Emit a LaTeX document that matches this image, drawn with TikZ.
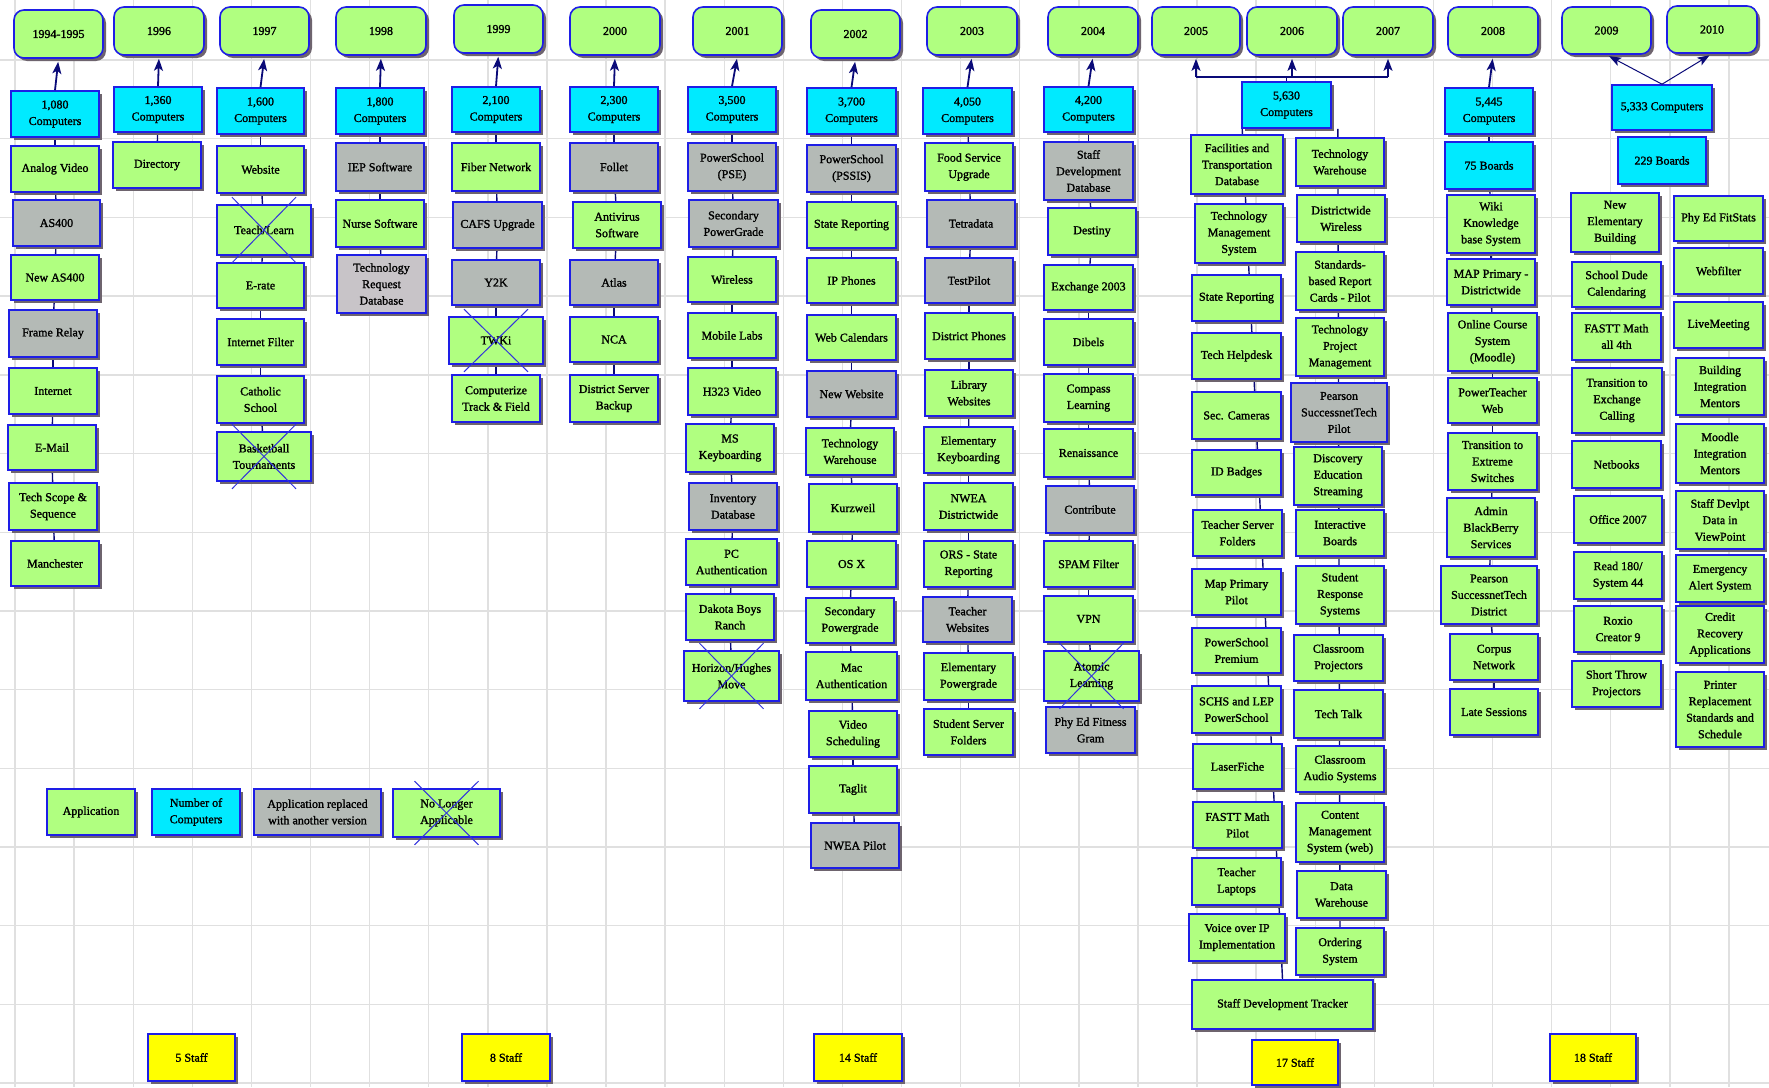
\documentclass[tikz,border=0pt]{standalone}
\usepackage{fontspec}
\setmainfont{Liberation Serif}
\newfontfamily\boxfont[FakeBold=1.5]{Liberation Serif}
\usetikzlibrary{arrows.meta,shadows}
\definecolor{appgreen}{RGB}{176,255,128}
\definecolor{cntcyan}{RGB}{0,234,255}
\definecolor{oldgray}{RGB}{180,186,182}
\definecolor{reqgray}{RGB}{200,196,200}
\definecolor{staffyellow}{RGB}{255,255,0}
\definecolor{bordercol}{RGB}{30,30,230}
\definecolor{navy}{RGB}{10,10,120}
\definecolor{xblue}{RGB}{50,50,220}
\definecolor{gridcol}{RGB}{224,224,224}
\definecolor{shadowcol}{RGB}{110,100,110}
\pgfdeclarelayer{gridlayer}
\pgfdeclarelayer{linklayer}
\pgfsetlayers{gridlayer,linklayer,main}
\newcommand{\fnt}{\boxfont\fontsize{12}{16.5}\selectfont}
\newcommand{\bx}[7]{\node[#1, minimum width={#5-#3}, minimum height={#6-#4}] (#2) at ({(#3+#5)/2},{(#4+#6)/2}) {#7};}
\newcommand{\xout}[1]{\draw[xline] ([shift={(-32,-7)}]#1.north) -- ([shift={(32,7)}]#1.south); \draw[xline] ([shift={(32,-7)}]#1.north) -- ([shift={(-32,7)}]#1.south);}
\newcommand{\chainlink}[1]{\foreach \p [count=\i] in {#1}{\ifnum\i>1 \draw[conn] (\prevnode) -- (\p);\fi \xdef\prevnode{\p}}}
\tikzset{
 box/.style={draw=bordercol, line width=1.6pt, inner sep=0.5pt, align=center, font=\fnt,
   drop shadow={shadow xshift=3pt, shadow yshift=-3pt, fill=shadowcol, opacity=1}},
 app/.style={box, fill=appgreen},
 cnt/.style={box, fill=cntcyan},
 old/.style={box, fill=oldgray},
 req/.style={box, fill=reqgray},
 yr/.style={box, fill=appgreen, rounded corners=10pt},
 staff/.style={box, fill=staffyellow},
 conn/.style={draw=navy, line width=1.4pt},
 arr/.style={conn, line width=1.8pt, -{Stealth[length=12pt, width=9pt, inset=3pt]}, shorten >=3pt},
 xline/.style={draw=xblue, line width=1pt},
 gridline/.style={draw=gridcol, line width=1.4pt}
}
\begin{document}
\begin{tikzpicture}[x=1pt,y=-1pt]
\useasboundingbox (0,0) rectangle (1769,1087);
\begin{pgfonlayer}{gridlayer}
\fill[white] (0,0) rectangle (1769,1087);
\foreach \i in {0,...,29} \draw[gridline] ({15+59.1*\i},0) -- ({15+59.1*\i},1087);
\foreach \j in {0,...,13} \draw[gridline] (0,{60+78.7*\j}) -- (1769,{60+78.7*\j});
\end{pgfonlayer}

% 1994-1995
\bx{yr}{y94}{14}{10}{103}{58}{1994-1995}
\bx{cnt}{c94}{11}{91}{99}{137}{1,080\\Computers}
\bx{app}{a94a}{11}{146}{99}{192}{Analog Video}
\bx{old}{a94b}{13}{200}{100}{246}{AS400}
\bx{app}{a94c}{11}{255}{99}{300}{New AS400}
\bx{old}{a94d}{9}{310}{97}{357}{Frame Relay}
\bx{app}{a94e}{9}{368}{97}{414}{Internet}
\bx{app}{a94f}{8}{425}{96}{470}{E-Mail}
\bx{app}{a94g}{9}{483}{97}{530}{Tech Scope \&\\Sequence}
\bx{app}{a94h}{11}{541}{99}{586}{Manchester}
% 1996
\bx{yr}{y96}{114}{7}{204}{55}{1996}
\bx{cnt}{c96}{114}{87}{202}{132}{1,360\\Computers}
\bx{app}{a96a}{113}{142}{201}{188}{Directory}
% 1997
\bx{yr}{y97}{220}{7}{309}{55}{1997}
\bx{cnt}{c97}{217}{88}{304}{134}{1,600\\Computers}
\bx{app}{a97a}{217}{146}{304}{193}{Website}
\bx{app}{a97b}{217}{205}{311}{255}{Teach/Learn}
\bx{app}{a97c}{217}{263}{304}{308}{E-rate}
\bx{app}{a97d}{217}{319}{304}{365}{Internet Filter}
\bx{app}{a97e}{217}{376}{304}{423}{Catholic\\School}
\bx{app}{a97f}{217}{432}{311}{481}{Basketball\\Tournaments}
% 1998
\bx{yr}{y98}{336}{7}{426}{55}{1998}
\bx{cnt}{c98}{336}{88}{424}{134}{1,800\\Computers}
\bx{old}{a98a}{336}{143}{424}{191}{IEP Software}
\bx{app}{a98b}{336}{200}{424}{247}{Nurse Software}
\bx{req}{a98c}{337}{255}{426}{313}{Technology\\Request\\Database}
% 1999
\bx{yr}{y99}{454}{5}{543}{53}{1999}
\bx{cnt}{c99}{452}{87}{540}{132}{2,100\\Computers}
\bx{app}{a99a}{452}{143}{540}{191}{Fiber Network}
\bx{old}{a99b}{453}{202}{542}{248}{CAFS Upgrade}
\bx{old}{a99c}{452}{260}{540}{305}{Y2K}
\bx{app}{a99d}{449}{317}{543}{364}{TWKi}
\bx{app}{a99e}{452}{375}{540}{422}{Computerize\\Track \& Field}
% 2000
\bx{yr}{y00}{570}{7}{660}{55}{2000}
\bx{cnt}{c00}{570}{87}{658}{132}{2,300\\Computers}
\bx{old}{a00a}{570}{143}{658}{191}{Follet}
\bx{app}{a00b}{573}{202}{661}{248}{Antivirus\\Software}
\bx{old}{a00c}{570}{260}{658}{305}{Atlas}
\bx{app}{a00d}{570}{317}{658}{362}{NCA}
\bx{app}{a00e}{570}{375}{658}{422}{District Server\\Backup}
% 2001
\bx{yr}{y01}{693}{7}{782}{55}{2001}
\bx{cnt}{c01}{688}{87}{776}{132}{3,500\\Computers}
\bx{old}{a01a}{688}{143}{776}{191}{PowerSchool\\(PSE)}
\bx{old}{a01b}{689}{200}{778}{247}{Secondary\\PowerGrade}
\bx{app}{a01c}{688}{257}{776}{302}{Wireless}
\bx{app}{a01d}{688}{313}{776}{358}{Mobile Labs}
\bx{app}{a01e}{688}{368}{776}{415}{H323 Video}
\bx{app}{a01f}{686}{424}{774}{472}{MS\\Keyboarding}
\bx{old}{a01g}{689}{483}{777}{530}{Inventory\\Database}
\bx{app}{a01h}{686}{539}{777}{585}{PC\\Authentication}
\bx{app}{a01i}{686}{594}{774}{640}{Dakota Boys\\Ranch}
\bx{app}{a01j}{684}{651}{779}{701}{Horizon/Hughes\\Move}
% 2002
\bx{yr}{y02}{811}{10}{900}{58}{2002}
\bx{cnt}{c02}{807}{88}{896}{134}{3,700\\Computers}
\bx{old}{a02a}{807}{145}{896}{192}{PowerSchool\\(PSSIS)}
\bx{app}{a02b}{807}{202}{896}{248}{State Reporting}
\bx{app}{a02c}{807}{258}{896}{303}{IP Phones}
\bx{app}{a02d}{807}{315}{896}{360}{Web Calendars}
\bx{old}{a02e}{807}{371}{896}{417}{New Website}
\bx{app}{a02f}{806}{428}{894}{475}{Technology\\Warehouse}
\bx{app}{a02g}{809}{484}{897}{532}{Kurzweil}
\bx{app}{a02h}{807}{541}{896}{587}{OS X}
\bx{app}{a02i}{806}{598}{894}{643}{Secondary\\Powergrade}
\bx{app}{a02j}{806}{652}{897}{700}{Mac\\Authentication}
\bx{app}{a02k}{809}{711}{897}{757}{Video\\Scheduling}
\bx{app}{a02l}{809}{766}{897}{813}{Taglit}
\bx{old}{a02m}{811}{823}{899}{868}{NWEA Pilot}
% 2003
\bx{yr}{y03}{927}{7}{1017}{55}{2003}
\bx{cnt}{c03}{923}{88}{1012}{134}{4,050\\Computers}
\bx{app}{a03a}{925}{143}{1013}{191}{Food Service\\Upgrade}
\bx{old}{a03b}{927}{200}{1015}{247}{Tetradata}
\bx{old}{a03c}{925}{258}{1013}{303}{TestPilot}
\bx{app}{a03d}{925}{313}{1013}{359}{District Phones}
\bx{app}{a03e}{925}{370}{1013}{416}{Library\\Websites}
\bx{app}{a03f}{924}{427}{1013}{473}{Elementary\\Keyboarding}
\bx{app}{a03g}{924}{483}{1013}{530}{NWEA\\Districtwide}
\bx{app}{a03h}{924}{541}{1013}{587}{ORS - State\\Reporting}
\bx{old}{a03i}{923}{597}{1012}{642}{Teacher\\Websites}
\bx{app}{a03j}{924}{653}{1013}{700}{Elementary\\Powergrade}
\bx{app}{a03k}{924}{709}{1013}{755}{Student Server\\Folders}
% 2004
\bx{yr}{y04}{1048}{7}{1138}{55}{2004}
\bx{cnt}{c04}{1044}{87}{1133}{132}{4,200\\Computers}
\bx{old}{a04a}{1044}{142}{1133}{200}{Staff\\Development\\Database}
\bx{app}{a04b}{1048}{208}{1136}{255}{Destiny}
\bx{app}{a04c}{1044}{265}{1133}{310}{Exchange 2003}
\bx{app}{a04d}{1044}{319}{1133}{365}{Dibels}
\bx{app}{a04e}{1044}{374}{1133}{422}{Compass\\Learning}
\bx{app}{a04f}{1044}{429}{1133}{477}{Renaissance}
\bx{old}{a04g}{1046}{486}{1134}{533}{Contribute}
\bx{app}{a04h}{1044}{541}{1133}{587}{SPAM Filter}
\bx{app}{a04i}{1044}{596}{1133}{642}{VPN}
\bx{app}{a04j}{1044}{651}{1139}{701}{Atomic\\Learning}
\bx{old}{a04k}{1046}{707}{1135}{753}{Phy Ed Fitness\\Gram}
% 2005-2007
\bx{yr}{y05}{1152}{7}{1240}{55}{2005}
\bx{yr}{y06}{1247}{7}{1337}{55}{2006}
\bx{yr}{y07}{1343}{7}{1433}{55}{2007}
\bx{cnt}{c05}{1242}{82}{1331}{128}{5,630\\Computers}
\bx{app}{l01}{1191}{135}{1283}{194}{Facilities and\\Transportation\\Database}
\bx{app}{l02}{1195}{204}{1283}{263}{Technology\\Management\\System}
\bx{app}{l03}{1192}{275}{1281}{321}{State Reporting}
\bx{app}{l04}{1192}{333}{1281}{379}{Tech Helpdesk}
\bx{app}{l05}{1192}{392}{1281}{439}{Sec. Cameras}
\bx{app}{l06}{1192}{450}{1281}{495}{ID Badges}
\bx{app}{l07}{1193}{510}{1282}{556}{Teacher Server\\Folders}
\bx{app}{l08}{1192}{569}{1281}{615}{Map Primary\\Pilot}
\bx{app}{l09}{1192}{628}{1281}{673}{PowerSchool\\Premium}
\bx{app}{l10}{1192}{686}{1281}{733}{SCHS and LEP\\PowerSchool}
\bx{app}{l11}{1193}{744}{1282}{789}{LaserFiche}
\bx{app}{l12}{1193}{802}{1282}{848}{FASTT Math\\Pilot}
\bx{app}{l13}{1192}{858}{1281}{905}{Teacher\\Laptops}
\bx{app}{l14}{1189}{914}{1285}{961}{Voice over IP\\Implementation}
\bx{app}{sdt}{1192}{980}{1373}{1029}{Staff Development Tracker}
\bx{app}{r01}{1296}{138}{1384}{186}{Technology\\Warehouse}
\bx{app}{r02}{1297}{195}{1385}{242}{Districtwide\\Wireless}
\bx{app}{r03}{1296}{252}{1384}{310}{Standards-\\based Report\\Cards - Pilot}
\bx{app}{r04}{1296}{318}{1384}{376}{Technology\\Project\\Management}
\bx{old}{r05}{1291}{383}{1387}{442}{Pearson\\SuccessnetTech\\Pilot}
\bx{app}{r06}{1294}{447}{1382}{505}{Discovery\\Education\\Streaming}
\bx{app}{r07}{1296}{510}{1384}{556}{Interactive\\Boards}
\bx{app}{r08}{1296}{566}{1384}{624}{Student\\Response\\Systems}
\bx{app}{r09}{1294}{635}{1383}{681}{Classroom\\Projectors}
\bx{app}{r10}{1294}{690}{1383}{738}{Tech Talk}
\bx{app}{r11}{1296}{746}{1384}{792}{Classroom\\Audio Systems}
\bx{app}{r12}{1296}{803}{1384}{862}{Content\\Management\\System (web)}
\bx{app}{r13}{1297}{871}{1386}{918}{Data\\Warehouse}
\bx{app}{r14}{1296}{928}{1384}{975}{Ordering\\System}
% 2008
\bx{yr}{y08}{1448}{7}{1538}{55}{2008}
\bx{cnt}{c08}{1445}{88}{1533}{134}{5,445\\Computers}
\bx{cnt}{b08}{1445}{142}{1533}{189}{75 Boards}
\bx{app}{a08a}{1447}{195}{1535}{253}{Wiki\\Knowledge\\base System}
\bx{app}{a08b}{1447}{259}{1535}{305}{MAP Primary -\\Districtwide}
\bx{app}{a08c}{1448}{313}{1537}{371}{Online Course\\System\\(Moodle)}
\bx{app}{a08d}{1448}{378}{1537}{423}{PowerTeacher\\Web}
\bx{app}{a08e}{1448}{433}{1537}{490}{Transition to\\Extreme\\Switches}
\bx{app}{a08f}{1447}{498}{1535}{557}{Admin\\BlackBerry\\Services}
\bx{app}{a08g}{1441}{566}{1537}{624}{Pearson\\SuccessnetTech\\District}
\bx{app}{a08h}{1450}{634}{1538}{680}{Corpus\\Network}
\bx{app}{a08i}{1450}{689}{1538}{735}{Late Sessions}
% 2009-2010
\bx{yr}{y09}{1562}{7}{1651}{54}{2009}
\bx{yr}{y10}{1667}{6}{1757}{53}{2010}
\bx{cnt}{c09}{1612}{85}{1712}{130}{5,333 Computers}
\bx{cnt}{b09}{1618}{137}{1706}{184}{229 Boards}
\bx{app}{n01}{1571}{193}{1659}{252}{New\\Elementary\\Building}
\bx{app}{n02}{1572}{262}{1661}{307}{School Dude\\Calendaring}
\bx{app}{n03}{1572}{313}{1661}{360}{FASTT Math\\all 4th}
\bx{app}{n04}{1572}{368}{1662}{433}{Transition to\\Exchange\\Calling}
\bx{app}{n05}{1572}{441}{1661}{488}{Netbooks}
\bx{app}{n06}{1574}{496}{1662}{543}{Office 2007}
\bx{app}{n07}{1574}{552}{1662}{599}{Read 180/\\System 44}
\bx{app}{n08}{1574}{606}{1662}{652}{Roxio\\Creator 9}
\bx{app}{n09}{1572}{661}{1661}{707}{Short Throw\\Projectors}
\bx{app}{t01}{1674}{196}{1763}{241}{Phy Ed FitStats}
\bx{app}{t02}{1674}{248}{1763}{294}{Webfilter}
\bx{app}{t03}{1674}{302}{1763}{348}{LiveMeeting}
\bx{app}{t04}{1676}{358}{1764}{415}{Building\\Integration\\Mentors}
\bx{app}{t05}{1676}{424}{1764}{483}{Moodle\\Integration\\Mentors}
\bx{app}{t06}{1676}{491}{1764}{549}{Staff Devlpt\\Data in\\ViewPoint}
\bx{app}{t07}{1676}{555}{1764}{602}{Emergency\\Alert System}
\bx{app}{t08}{1676}{606}{1764}{663}{Credit\\Recovery\\Applications}
\bx{app}{t09}{1676}{672}{1764}{747}{Printer\\Replacement\\Standards and\\Schedule}
% legend
\bx{app}{lga}{47}{789}{135}{835}{Application}
\bx{cnt}{lgb}{152}{789}{240}{835}{Number of\\Computers}
\bx{old}{lgc}{254}{789}{381}{835}{Application replaced\\with another version}
\bx{app}{lgd}{393}{789}{500}{837}{No Longer\\Applicable}
% staff
\bx{staff}{s1}{148}{1034}{235}{1081}{5 Staff}
\bx{staff}{s2}{462}{1034}{550}{1081}{8 Staff}
\bx{staff}{s3}{814}{1034}{902}{1081}{14 Staff}
\bx{staff}{s4}{1252}{1040}{1338}{1085}{17 Staff}
\bx{staff}{s5}{1550}{1034}{1636}{1081}{18 Staff}

% crossed-out
\xout{a97b}\xout{a97f}\xout{a99d}\xout{a01j}\xout{a04j}\xout{lgd}

% links
\begin{pgfonlayer}{linklayer}
\chainlink{c94,a94a,a94b,a94c,a94d,a94e,a94f,a94g,a94h}
\chainlink{c96,a96a}
\chainlink{c97,a97a,a97b,a97c,a97d,a97e,a97f}
\chainlink{c98,a98a,a98b,a98c}
\chainlink{c99,a99a,a99b,a99c,a99d,a99e}
\chainlink{c00,a00a,a00b,a00c,a00d,a00e}
\chainlink{c01,a01a,a01b,a01c,a01d,a01e,a01f,a01g,a01h,a01i,a01j}
\chainlink{c02,a02a,a02b,a02c,a02d,a02e,a02f,a02g,a02h,a02i,a02j,a02k,a02l,a02m}
\chainlink{c03,a03a,a03b,a03c,a03d,a03e,a03f,a03g,a03h,a03i,a03j,a03k}
\chainlink{c04,a04a,a04b,a04c,a04d,a04e,a04f,a04g,a04h,a04i,a04j,a04k}
\chainlink{c08,b08,a08a,a08b,a08c,a08d,a08e,a08f,a08g,a08h,a08i}
\draw[conn] ([xshift=1pt]c05.south west) -- (sdt.north);
\draw[conn] ([xshift=6pt]c05.south east) -- (r14.north);
\end{pgfonlayer}

% arrows to year boxes
\foreach \c/\y in {c94/y94,c96/y96,c97/y97,c98/y98,c99/y99,c00/y00,c01/y01,c02/y02,c03/y03,c04/y04,c08/y08}
  \draw[arr] (\c.north) -- (\y.south);
\coordinate (bar) at (1288,77);
\draw[conn] (c05.north) -- (c05.north |- bar);
\draw[conn] (y05.south |- bar) -- (y07.south |- bar);
\foreach \y in {y05,y06,y07} \draw[arr] (\y.south |- bar) -- (\y.south);
\draw[arr, line width=1pt] (c09.north) -- (y09.south);
\draw[arr, line width=1pt] (c09.north) -- (y10.south);
\end{tikzpicture}
\end{document}
